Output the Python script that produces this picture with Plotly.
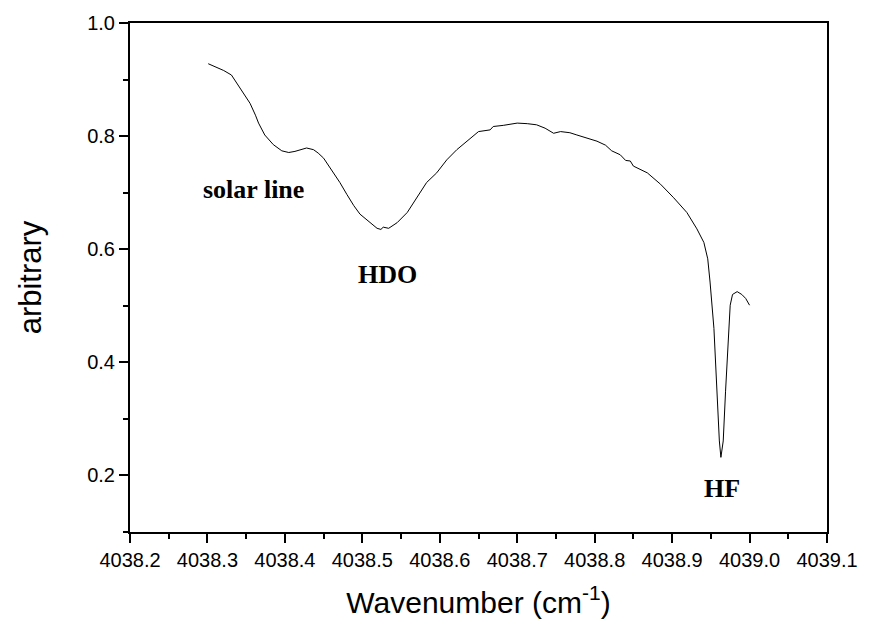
import plotly.graph_objects as go

# Spectrum
wavenumber = [
    4038.301, 4038.310, 4038.321, 4038.331, 4038.338, 4038.346, 4038.355, 4038.362,
    4038.366, 4038.374, 4038.385, 4038.396, 4038.405, 4038.413, 4038.420, 4038.428,
    4038.437, 4038.443, 4038.450, 4038.454, 4038.463, 4038.471, 4038.480, 4038.489,
    4038.497, 4038.510, 4038.519, 4038.524, 4038.527, 4038.534, 4038.545, 4038.558,
    4038.570, 4038.583, 4038.596, 4038.609, 4038.622, 4038.635, 4038.650, 4038.665,
    4038.669, 4038.682, 4038.700, 4038.713, 4038.725, 4038.736, 4038.747, 4038.756,
    4038.768, 4038.777, 4038.790, 4038.803, 4038.814, 4038.822, 4038.833, 4038.840,
    4038.846, 4038.850, 4038.868, 4038.885, 4038.902, 4038.919, 4038.932, 4038.941,
    4038.946, 4038.949, 4038.954, 4038.958, 4038.961, 4038.963, 4038.966, 4038.969,
    4038.972, 4038.975, 4038.978, 4038.984, 4038.990, 4038.995, 4039.000,
]
intensity = [
    0.928, 0.923, 0.916, 0.908, 0.893, 0.878, 0.858, 0.837,
    0.823, 0.802, 0.785, 0.774, 0.771, 0.773, 0.776, 0.779,
    0.776, 0.770, 0.761, 0.753, 0.735, 0.718, 0.697, 0.677,
    0.662, 0.647, 0.637, 0.635, 0.639, 0.637, 0.647, 0.665,
    0.691, 0.718, 0.735, 0.758, 0.776, 0.791, 0.808, 0.811,
    0.817, 0.819, 0.823, 0.822, 0.820, 0.814, 0.805, 0.808,
    0.806, 0.802, 0.796, 0.791, 0.784, 0.774, 0.767, 0.757,
    0.756, 0.747, 0.735, 0.715, 0.691, 0.665, 0.636, 0.612,
    0.583, 0.542, 0.460, 0.343, 0.261, 0.232, 0.261, 0.349,
    0.437, 0.501, 0.520, 0.525, 0.520, 0.513, 0.501,
]

label_text = ["solar line", "HDO", "HF"]
label_x = [4038.360, 4038.532, 4038.964]
label_y = [0.705, 0.556, 0.177]

x_ticks = [4038.2, 4038.3, 4038.4, 4038.5, 4038.6, 4038.7, 4038.8, 4038.9, 4039.0, 4039.1]
y_ticks = [0.2, 0.4, 0.6, 0.8, 1.0]

fig = go.Figure()
fig.add_trace(go.Scatter(
    x=wavenumber, y=intensity, mode="lines",
    line=dict(color="black", width=1), showlegend=False, hoverinfo="skip",
))

for t, x, y in zip(label_text, label_x, label_y):
    fig.add_annotation(
        x=x, y=y, text=f"<b>{t}</b>", showarrow=False,
        font=dict(family="Liberation Serif", size=26, color="black"),
        xanchor="center", yanchor="middle",
    )

axis_common = dict(
    showline=True, linecolor="black", linewidth=2, mirror=True,
    showgrid=False, zeroline=False, ticks="outside", tickcolor="black",
    tickwidth=2, ticklen=9,
    tickfont=dict(family="Liberation Sans", size=20, color="black"),
)

fig.update_xaxes(
    range=[4038.2, 4039.1], tickvals=x_ticks, tickformat=".1f",
    minor=dict(dtick=0.05, tick0=4038.2, ticks="outside", ticklen=5, tickwidth=2, tickcolor="black"),
    title=dict(text="Wavenumber (cm<sup>-1</sup>)", font=dict(family="Liberation Sans", size=30, color="black"), standoff=22),
    **axis_common,
)
fig.update_yaxes(
    range=[0.1, 1.0], tickvals=y_ticks, tickformat=".1f",
    minor=dict(dtick=0.1, tick0=0.1, ticks="outside", ticklen=5, tickwidth=2, tickcolor="black"),
    title=dict(text="arbitrary", font=dict(family="Liberation Sans", size=31, color="black"), standoff=36),
    **axis_common,
)

fig.update_layout(
    width=879, height=626,
    margin=dict(l=130, r=52, t=18, b=94),
    plot_bgcolor="white", paper_bgcolor="white",
)

fig.write_html("out.html")
